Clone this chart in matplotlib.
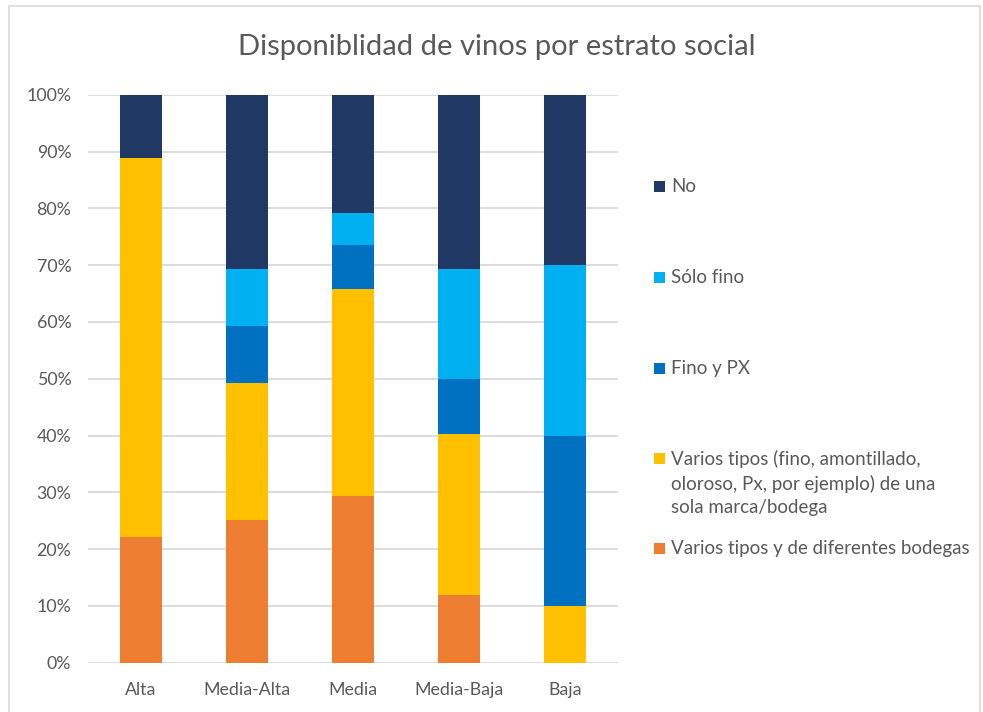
import matplotlib
matplotlib.use("Agg")
import matplotlib.pyplot as plt
from matplotlib.patches import Rectangle
import numpy as np

plt.rcParams['font.family'] = ['Lato', 'DejaVu Sans']

# Data: share of respondents (%) per social stratum
estratos = ["Alta", "Media-Alta", "Media", "Media-Baja", "Baja"]
series_names = [
    "Varios tipos y de diferentes bodegas",
    "Varios tipos (fino, amontillado,\noloroso, Px, por ejemplo) de una\nsola marca/bodega",
    "Fino y PX",
    "Sólo fino",
    "No",
]
varios_diferentes = [22.2, 25.2, 29.4, 11.9, 0.0]
varios_una_marca = [66.7, 24.0, 36.4, 28.4, 10.0]
fino_y_px = [0.0, 10.1, 7.8, 9.7, 30.0]
solo_fino = [0.0, 10.1, 5.6, 19.3, 30.0]
no_disp = [11.1, 30.6, 20.8, 30.7, 30.0]
yticks_pct = [0, 10, 20, 30, 40, 50, 60, 70, 80, 90, 100]

colors = ["#ED7D31", "#FFC000", "#0070C0", "#00B0F0", "#203864"]
values = [varios_diferentes, varios_una_marca, fino_y_px, solo_fino, no_disp]

W, H = 983, 712
fig = plt.figure(figsize=(W / 100, H / 100), dpi=100)
fig.patch.set_facecolor("white")

# chart-area frame
fig.add_artist(Rectangle((9 / W, -0.05), (980 - 9) / W, (H - 6) / H + 0.05,
                         transform=fig.transFigure, fill=False,
                         edgecolor="#D9D9D9", linewidth=1.2))

ax = fig.add_axes([88 / W, (H - 662.7) / H, (618 - 88) / W, (662.7 - 94.7) / H])
x = np.arange(len(estratos))
bottom = np.zeros(len(estratos))
for vals, col in zip(values, colors):
    v = np.array(vals)
    ax.bar(x, v, bottom=bottom, width=0.4, color=col, edgecolor="none", zorder=3)
    bottom += v

ax.set_xlim(-0.5, len(estratos) - 0.5)
ax.set_ylim(0, 100)
ax.set_yticks(yticks_pct)
ax.set_yticklabels([f"{t}%" for t in yticks_pct])
ax.set_xticks(x)
ax.set_xticklabels(estratos)
ax.tick_params(axis="both", length=0, colors="#595959", labelsize=12.8)
ax.tick_params(axis="y", pad=12)
ax.tick_params(axis="x", pad=14)
for s in ax.spines.values():
    s.set_visible(False)
ax.grid(axis="y", color="#D9D9D9", linewidth=1.3, zorder=0)
ax.set_axisbelow(True)

fig.text(497 / W, 1 - 47 / H, "Disponiblidad de vinos por estrato social",
         ha="center", va="center", fontsize=21, color="#595959")

# legend, drawn top-to-bottom in reverse series order
legend_y = [548, 458, 368, 277, 186]
for name, col, yy in zip(series_names, colors, legend_y):
    fig.add_artist(Rectangle((654 / W, 1 - (yy + 5.5) / H), 11 / W, 11 / H,
                             transform=fig.transFigure, facecolor=col,
                             edgecolor="none"))
    fig.text(671 / W, 1 - (yy - 8) / H, name, ha="left", va="top",
             fontsize=13.5, color="#595959", linespacing=1.45)

fig.savefig("out.png", dpi=100)
